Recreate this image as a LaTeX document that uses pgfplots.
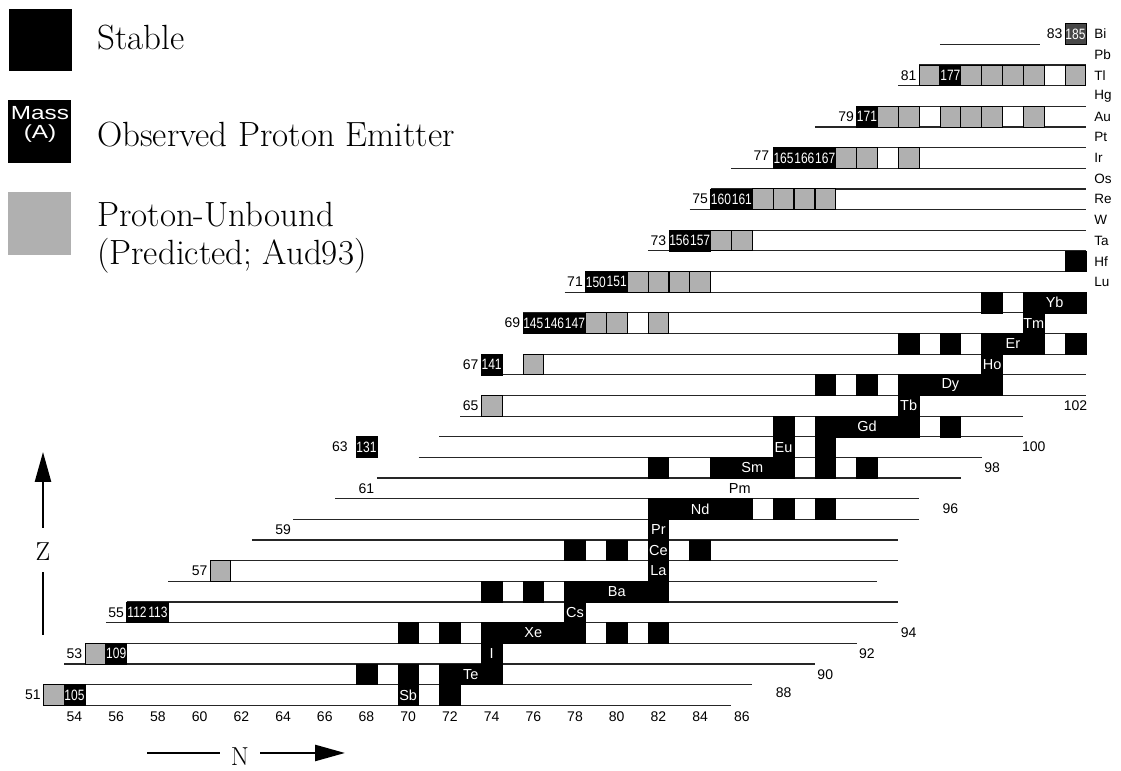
\documentclass[border=0pt]{standalone}
\usepackage{fontspec}
\usepackage{graphicx}
\usepackage{pgfplots}
\pgfplotsset{compat=1.18}
\usetikzlibrary{arrows.meta}
\newfontfamily\hel{Liberation Sans}
\newcommand\labfont{\hel\fontsize{14}{15}\selectfont}
\newcommand\elfont{\hel\fontsize{14.5}{16}\selectfont}
\newcommand\emfont{\hel\fontsize{15}{16}\selectfont}
\newcommand\symfont{\hel\fontsize{13.5}{14}\selectfont}
\colorlet{unb}{black!31}

\begin{document}
\begin{tikzpicture}
\begin{axis}[at={(0,0)}, anchor=south west, x=20.854pt, y=20.656pt,
  xmin=50.4275, xmax=104.182, ymin=47.321, ymax=84.646,
  hide axis, clip=false, enlargelimits=false,
  every node near coord/.append style={inner sep=0pt}]
\path (rel axis cs:0,0) rectangle (rel axis cs:1,1);

% row boundary lines (N start/end at Z+0.5)
\addplot[black!85, line width=1.2pt, mark=none, unbounded coords=jump] table {
x y
52.5 50.5
85.5 50.5
nan nan
52.5 51.5
86.5 51.5
nan nan
53.5 52.5
89.5 52.5
nan nan
54.5 53.5
91.5 53.5
nan nan
55.5 54.5
93.5 54.5
nan nan
56.5 55.5
93.5 55.5
nan nan
58.5 56.5
92.5 56.5
nan nan
60.5 57.5
93.5 57.5
nan nan
62.5 58.5
93.5 58.5
nan nan
64.5 59.5
94.5 59.5
nan nan
66.5 60.5
94.5 60.5
nan nan
68.5 61.5
96.5 61.5
nan nan
70.5 62.5
97.5 62.5
nan nan
71.5 63.5
99.5 63.5
nan nan
72.5 64.5
99.5 64.5
nan nan
73.5 65.5
102.5 65.5
nan nan
74.5 66.5
102.5 66.5
nan nan
75.5 67.5
102.5 67.5
nan nan
75.5 68.5
102.5 68.5
nan nan
75.5 69.5
102.5 69.5
nan nan
77.5 70.5
102.5 70.5
nan nan
78.5 71.5
102.5 71.5
nan nan
81.5 72.5
102.5 72.5
nan nan
82.5 73.5
102.5 73.5
nan nan
83.5 74.5
102.5 74.5
nan nan
84.5 75.5
102.5 75.5
nan nan
85.5 76.5
102.5 76.5
nan nan
87.5 77.5
102.5 77.5
nan nan
89.5 78.5
102.5 78.5
nan nan
91.5 79.5
102.5 79.5
nan nan
93.5 80.5
102.5 80.5
nan nan
94.5 81.5
102.5 81.5
nan nan
95.5 82.5
100.3 82.5
};

% predicted proton-unbound
\addplot[only marks, mark=square*, mark size=10.35pt,
  mark options={fill=unb, draw=black, line width=0.8pt}] table {
N Z
53 51
55 53
61 57
74 65
76 67
79 69
80 69
82 69
81 71
82 71
83 71
84 71
85 73
86 73
87 75
88 75
89 75
90 75
91 77
92 77
94 77
93 79
94 79
96 79
97 79
98 79
100 79
95 81
97 81
98 81
99 81
100 81
102 81
};

% stable
\addplot[only marks, mark=square*, mark size=10.35pt,
  mark options={fill=black, draw=black, line width=0.6pt}] table {
N Z
70 51
72 51
68 52
70 52
72 52
73 52
74 52
74 53
70 54
72 54
74 54
75 54
76 54
77 54
78 54
80 54
82 54
78 55
74 56
76 56
78 56
79 56
80 56
81 56
82 56
82 57
78 58
80 58
82 58
84 58
82 59
82 60
83 60
84 60
85 60
86 60
88 60
90 60
82 62
85 62
86 62
87 62
88 62
90 62
92 62
88 63
90 63
88 64
90 64
91 64
92 64
93 64
94 64
96 64
94 65
90 66
92 66
94 66
95 66
96 66
97 66
98 66
98 67
94 68
96 68
98 68
99 68
100 68
102 68
100 69
98 70
100 70
101 70
102 70
102 72
};

% observed proton emitters
\addplot[only marks, mark=square*, mark size=10.35pt,
  mark options={fill=black, draw=black, line width=0.6pt},
  nodes near coords={\scalebox{0.8}[1]{\pgfplotspointmeta}},
  point meta=explicit symbolic,
  nodes near coords style={anchor=center, text=white, font=\emfont}] table[meta=A] {
N Z A
54 51 105
56 53 109
57 55 112
58 55 113
68 63 131
74 67 141
76 69 145
77 69 146
78 69 147
79 71 150
80 71 151
83 73 156
84 73 157
85 75 160
86 75 161
88 77 165
89 77 166
90 77 167
92 79 171
96 81 177
};
\addplot[only marks, mark=square*, mark size=10.35pt,
  mark options={fill=black!72, draw=black, line width=0.6pt},
  nodes near coords={\scalebox{0.8}[1]{\pgfplotspointmeta}},
  point meta=explicit symbolic,
  nodes near coords style={anchor=center, text=white, font=\emfont}] table[meta=A] {
N Z A
102 83 185
};

% element names in stable blocks
\addplot[draw=none, mark=none, nodes near coords, point meta=explicit symbolic,
  nodes near coords style={anchor=center, text=white, font=\elfont}] table[meta=s] {
N Z s
70 51 Sb
73 52 Te
74 53 I
76 54 Xe
78 55 Cs
80 56 Ba
82 57 La
82 58 Ce
82 59 Pr
84 60 Nd
86.5 62 Sm
88 63 Eu
92 64 Gd
94 65 Tb
96 66 Dy
98 67 Ho
99 68 Er
100 69 Tm
101 70 Yb
};
\addplot[draw=none, mark=none, nodes near coords, point meta=explicit symbolic,
  nodes near coords style={anchor=center, text=black, font=\elfont}] table[meta=s] {
N Z s
85.9 61 Pm
};

% Z labels (odd rows)
\addplot[draw=none, mark=none, nodes near coords, point meta=explicit symbolic,
  nodes near coords style={anchor=center, text=black, font=\labfont}] table[meta=s] {
N Z s
52 51 51
54 53 53
56 55 55
60 57 57
64 59 59
68 61 61
66.73 63 63
73 65 65
73 67 67
75 69 69
78 71 71
82 73 73
84 75 75
86.94 77.1 77
91 79 79
94 81 81
101 83 83
};

% N labels at row ends
\addplot[draw=none, mark=none, nodes near coords, point meta=explicit symbolic,
  nodes near coords style={anchor=center, text=black, font=\labfont}] table[meta=s] {
N Z s
88 51.1 88
90 52 90
92 53 92
94 54 94
96 60 96
98 62 98
100 63 100
102 65 102
};

% N axis numbers
\addplot[draw=none, mark=none, nodes near coords, point meta=explicit symbolic,
  nodes near coords style={anchor=center, text=black, font=\labfont}] table[meta=s] {
N Z s
54 49.95 54
56 49.95 56
58 49.95 58
60 49.95 60
62 49.95 62
64 49.95 64
66 49.95 66
68 49.95 68
70 49.95 70
72 49.95 72
74 49.95 74
76 49.95 76
78 49.95 78
80 49.95 80
82 49.95 82
84 49.95 84
86 49.95 86
};

% element symbols at right
\addplot[draw=none, mark=none, nodes near coords, point meta=explicit symbolic,
  nodes near coords style={anchor=west, text=black, font=\symfont}] table[meta=s] {
N Z s
102.89 83 Bi
102.89 82 Pb
102.89 81 Tl
102.89 80 Hg
102.89 79 Au
102.89 78 Pt
102.89 77 Ir
102.89 76 Os
102.89 75 Re
102.89 74 W
102.89 73 Ta
102.89 72 Hf
102.89 71 Lu
};
\end{axis}

% legend and axis arrows in pixel coordinates
\begin{scope}[shift={(0pt,771pt)}, x=1pt, y=-1pt]
\fill[black] (9,9) rectangle (72,71);
\fill[black] (8,100) rectangle (71,163);
\node[anchor=base, text=white, font=\hel\fontsize{19}{20}\selectfont, inner sep=0pt] at (40,120) {\scalebox{1.28}[1]{Mass}};
\node[anchor=base, text=white, font=\hel\fontsize{19}{20}\selectfont, inner sep=0pt] at (40,139) {\scalebox{1.28}[1]{(A)}};
\fill[unb] (8,192) rectangle (71,255);
\node[anchor=base west, inner sep=0pt, font=\fontsize{35}{40}\selectfont] at (97,50) {Stable};
\node[anchor=base west, inner sep=0pt, font=\fontsize{35}{40}\selectfont] at (97,147) {Observed Proton Emitter};
\node[anchor=base west, inner sep=0pt, font=\fontsize{35}{40}\selectfont] at (97,227) {Proton-Unbound};
\node[anchor=base west, inner sep=0pt, font=\fontsize{35}{40}\selectfont] at (97,265) {(Predicted; Aud93)};

\draw[line width=2.5pt] (43,635) -- (43,572);
\draw[line width=2.5pt, -{Triangle[length=30pt,width=16pt]}] (43,528) -- (43,452);
\node[font=\fontsize{26}{28}\selectfont, inner sep=0pt] at (43,552) {Z};
\draw[line width=2.5pt] (147,753) -- (220,753);
\draw[line width=2.5pt, -{Triangle[length=30pt,width=16pt]}] (260,753) -- (345,753);
\node[font=\fontsize{26}{28}\selectfont, inner sep=0pt] at (240,757) {N};
\end{scope}
\end{tikzpicture}
\end{document}
